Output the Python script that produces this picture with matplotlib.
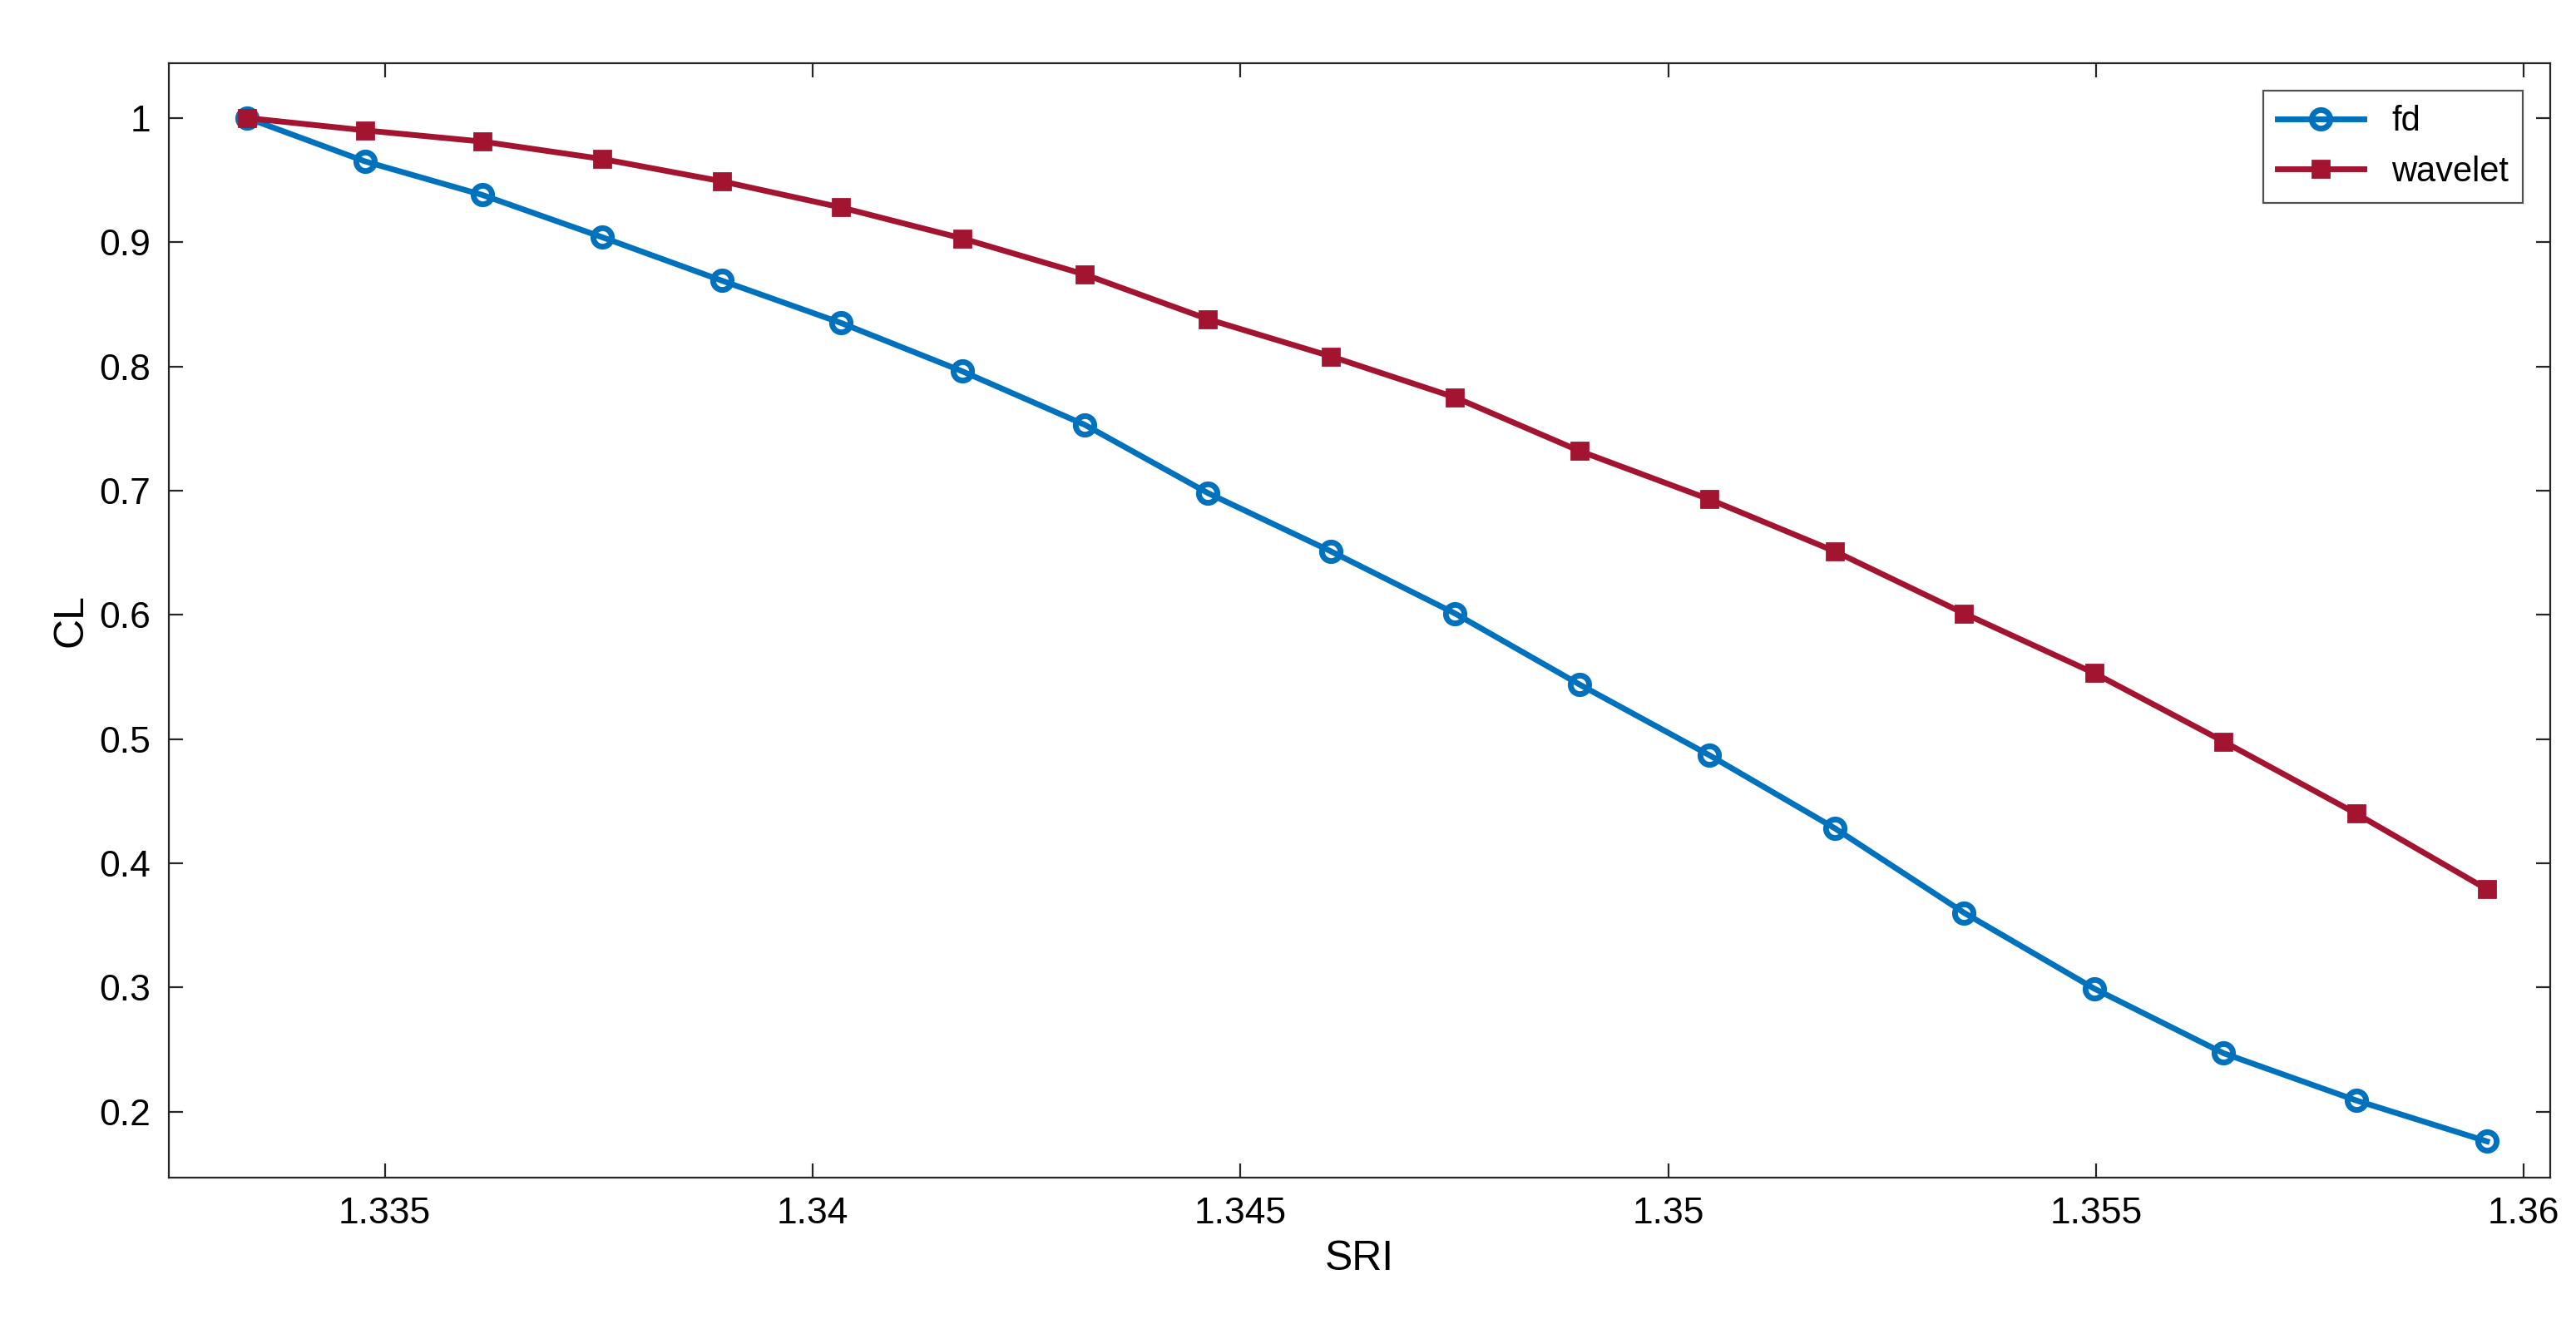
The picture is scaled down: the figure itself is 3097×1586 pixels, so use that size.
import matplotlib
matplotlib.use("Agg")
import matplotlib.pyplot as plt

sri = [1.33339, 1.33477, 1.33614, 1.33754, 1.33894, 1.34033, 1.34175, 1.34318, 1.34462,
       1.34606, 1.34751, 1.34896, 1.35048, 1.35195, 1.35346, 1.35498, 1.35649, 1.35804, 1.35957]
fd = [1, .965, .938, .904, .869, .835, .796, .753, .698, .651, .601, .544, .487, .428, .360,
      .299, .247, .209, .176]
wavelet = [1, .990, .981, .967, .949, .928, .903, .874, .838, .808, .775, .732, .693, .651,
           .601, .553, .498, .440, .379]
xticks = [1.335, 1.34, 1.345, 1.35, 1.355, 1.36]
xticklabels = ["1.335", "1.34", "1.345", "1.35", "1.355", "1.36"]
yticks = [0.2, 0.3, 0.4, 0.5, 0.6, 0.7, 0.8, 0.9, 1]
yticklabels = ["0.2", "0.3", "0.4", "0.5", "0.6", "0.7", "0.8", "0.9", "1"]

plt.rcParams['font.family'] = ['Liberation Sans', 'DejaVu Sans']
fig = plt.figure(figsize=(15.485, 7.93), dpi=200)
ax = fig.add_axes([0.0657, 0.107, 0.9243, 0.845])
ax.plot(sri, fd, color='#0072BD', lw=2.5, marker='o', ms=8, mfc='none', mew=2.5, label='fd')
ax.plot(sri, wavelet, color='#A2142F', lw=2.5, marker='s', ms=7, label='wavelet')
ax.set_xlim(1.33248, 1.36031)
ax.set_ylim(0.1466, 1.044)
ax.set_xticks(xticks, xticklabels)
ax.set_yticks(yticks, yticklabels)
ax.tick_params(direction='in', top=True, right=True, labelsize=16, length=6, color='#262626', pad=8)
for s in ax.spines.values():
    s.set_color('#262626'); s.set_linewidth(0.8)
ax.set_xlabel('SRI', fontsize=18, labelpad=4)
ax.set_ylabel('CL', fontsize=18)
leg = ax.legend(loc='upper right', fontsize=15, fancybox=False, edgecolor='#262626',
                handlelength=2.5, borderaxespad=0.8)
leg.get_frame().set_linewidth(0.8)
fig.savefig('out.png', dpi=200)
